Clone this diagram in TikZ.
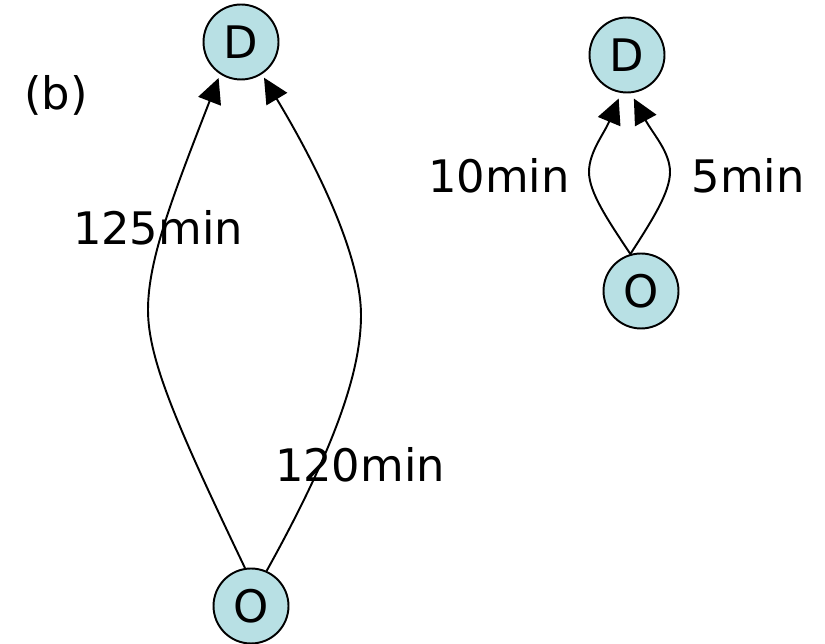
\documentclass[tikz,border=0pt]{standalone}
\usepackage{fontspec}
\setmainfont{DejaVu Sans}
\usepackage{xcolor}
\usetikzlibrary{positioning, arrows.meta}

\definecolor{odcyan}{RGB}{184,224,228}

\begin{document}
\begin{tikzpicture}[
  x=0.02cm, y=-0.02cm,
  >={Triangle[length=0.5cm, width=0.48cm]},
  line width=1.1pt,
  every node/.style={font=\fontsize{25.5}{30}\selectfont},
  odnode/.style={circle, draw, fill=odcyan, minimum size=1.5cm, inner sep=0pt},
  timelbl/.style={anchor=base, inner sep=0pt}
]
\useasboundingbox (0,0) rectangle (825,644);

% Left network
\node[odnode] (D1) at (241,42) {D};
\node[odnode] (O1) at (251,606) {O};
\node[timelbl] (b) at (56,110) {(b)};

% Right network
\node[odnode] (D2) at (627,55) {D};
\node[odnode] (O2) at (641,291) {O};

% Routes, left
\draw[->, shorten >=0.08cm] (O1.99) .. controls (178,428) and (148,360) .. (148,310)
  .. controls (148,260) and (172,198) .. (D1.237);
\draw[->, shorten >=0.08cm] (O1.66) .. controls (341,437) and (361,365) .. (361,315)
  .. controls (361,265) and (329,186) .. (D1.303);
\node[timelbl] (t125) at (158,245) {125min};
\node[timelbl] (t120) at (360,482) {120min};

% Routes, right
\draw[->, shorten >=0.12cm] (O2.106) .. controls (607,219) and (589,192) .. (589,172)
  .. controls (589,152) and (604,134) .. (D2.261);
\draw[->, shorten >=0.12cm] (O2.106) .. controls (653,219) and (670,192) .. (670,172)
  .. controls (670,152) and (653,134) .. (D2.276);
\node[timelbl] (t10) at (499,193) {10min};
\node[timelbl] (t5) at (748,193) {5min};
\end{tikzpicture}
\end{document}
